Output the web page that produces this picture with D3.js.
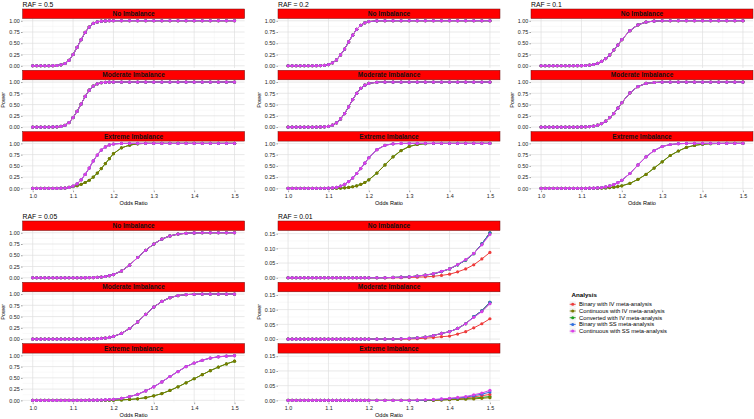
<!DOCTYPE html>
<html><head><meta charset="utf-8">
<script src="https://cdn.jsdelivr.net/npm/d3@7/dist/d3.min.js"></script>
<style>body{margin:0;background:#fff} svg text{font-family:"Liberation Sans",Arial,Helvetica,sans-serif}</style>
</head><body><svg id="c" width="754" height="419"></svg>
<script>
const oddsRatio = [1.00,1.01,1.02,1.03,1.04,1.05,1.06,1.07,1.08,1.09,1.10,1.11,1.12,1.13,1.14,1.15,1.16,1.17,1.18,1.19,1.20,1.22,1.24,1.26,1.28,1.30,1.32,1.34,1.36,1.38,1.40,1.42,1.44,1.46,1.48,1.50];
const seriesNames = ["Binary with IV meta-analysis","Continuous with IV meta-analysis","Converted with IV meta-analysis","Binary with SS meta-analysis","Continuous with SS meta-analysis"];
const seriesColors = ["#EE3B3B","#7A7A00","#1E9E1E","#2F6FE0","#DA3FE8"];
const drawOrder = [2,0,1,3,4];
const facetNames = ["No Imbalance","Moderate Imbalance","Extreme Imbalance"];
const xTicks = [1.0,1.1,1.2,1.3,1.4,1.5];
const yTicksMain = [0,0.25,0.5,0.75,1];
const yTicksRare = [0,0.05,0.10,0.15];

// RAF = 0.5
const raf05_none = [0,0,0,0,0,0.002,0.006,0.02,0.05,0.12,0.25,0.41,0.58,0.74,0.86,0.94,0.975,0.99,0.997,1,1,1,1,1,1,1,1,1,1,1,1,1,1,1,1,1];
const raf05_mod = [0,0,0,0,0,0.002,0.005,0.015,0.04,0.10,0.21,0.35,0.51,0.68,0.82,0.91,0.96,0.985,0.995,1,1,1,1,1,1,1,1,1,1,1,1,1,1,1,1,1];
const raf05_extSS = [0,0,0,0,0,0,0.001,0.003,0.008,0.02,0.05,0.10,0.19,0.31,0.45,0.61,0.74,0.85,0.92,0.964,0.986,0.998,1,1,1,1,1,1,1,1,1,1,1,1,1,1];
const raf05_extIV = [0,0,0,0,0,0,0,0.002,0.008,0.02,0.04,0.06,0.09,0.13,0.18,0.25,0.34,0.44,0.55,0.66,0.77,0.90,0.96,0.99,1,1,1,1,1,1,1,1,1,1,1,1];
// RAF = 0.2
const raf02_none = [0,0,0,0,0,0,0,0.001,0.003,0.01,0.027,0.064,0.13,0.24,0.37,0.53,0.68,0.81,0.90,0.954,0.981,0.998,1,1,1,1,1,1,1,1,1,1,1,1,1,1];
const raf02_mod = [0,0,0,0,0,0,0,0,0.002,0.006,0.017,0.043,0.093,0.18,0.30,0.45,0.61,0.75,0.86,0.93,0.97,0.996,1,1,1,1,1,1,1,1,1,1,1,1,1,1];
const raf02_extSS = [0,0,0,0,0,0,0,0,0,0.002,0.004,0.01,0.021,0.05,0.09,0.15,0.23,0.33,0.44,0.56,0.68,0.86,0.957,0.99,0.998,1,1,1,1,1,1,1,1,1,1,1];
const raf02_extIV = [0,0,0,0,0,0,0,0,0,0,0.001,0.002,0.003,0.006,0.011,0.02,0.035,0.057,0.089,0.13,0.19,0.34,0.52,0.70,0.84,0.93,0.975,0.992,0.998,1,1,1,1,1,1,1];
// RAF = 0.1
const raf01_none = [0,0,0,0,0,0,0,0,0,0.001,0.002,0.006,0.014,0.028,0.054,0.097,0.16,0.24,0.35,0.46,0.58,0.78,0.91,0.97,0.993,1,1,1,1,1,1,1,1,1,1,1];
const raf01_mod = [0,0,0,0,0,0,0,0,0,0,0.002,0.004,0.01,0.021,0.042,0.078,0.13,0.21,0.30,0.42,0.54,0.76,0.90,0.97,0.99,1,1,1,1,1,1,1,1,1,1,1];
const raf01_extSS = [0,0,0,0,0,0,0,0,0,0,0,0,0.003,0.005,0.01,0.018,0.031,0.053,0.084,0.127,0.18,0.33,0.52,0.70,0.84,0.93,0.974,0.992,0.998,1,1,1,1,1,1,1];
const raf01_extIV = [0,0,0,0,0,0,0,0,0,0,0,0,0.001,0.002,0.004,0.006,0.01,0.017,0.026,0.039,0.057,0.11,0.20,0.31,0.45,0.59,0.73,0.83,0.91,0.955,0.98,0.992,0.997,1,1,1];
// RAF = 0.05
const raf005_none = [0,0,0,0,0,0,0,0,0,0,0,0,0,0.001,0.003,0.005,0.009,0.017,0.028,0.046,0.071,0.15,0.28,0.45,0.61,0.75,0.86,0.93,0.97,0.988,0.996,1,1,1,1,1];
const raf005_mod = [0,0,0,0,0,0,0,0,0,0,0,0,0,0,0.002,0.004,0.008,0.014,0.023,0.037,0.058,0.125,0.235,0.38,0.55,0.71,0.836,0.92,0.966,0.988,0.996,1,1,1,1,1];
const raf005_extSS = [0,0,0,0,0,0,0,0,0,0,0.001,0.001,0.002,0.002,0.003,0.004,0.005,0.008,0.011,0.017,0.023,0.045,0.081,0.135,0.21,0.30,0.41,0.53,0.64,0.75,0.83,0.89,0.94,0.967,0.983,0.992];
const raf005_extIV = [0,0,0,0,0,0,0,0,0,0,0,0,0,0,0,0,0,0,0.001,0.002,0.004,0.01,0.02,0.035,0.06,0.10,0.15,0.22,0.30,0.39,0.48,0.57,0.66,0.74,0.81,0.87];
// RAF = 0.01
const raf001_none_hi = [0,0,0,0,0,0,0,0,0,0,0,0,0,0,0,0,0,0,0,0,0,0,0,0.001,0.002,0.003,0.006,0.009,0.013,0.021,0.03,0.044,0.06,0.082,0.115,0.153];
const raf001_none_ss = [0,0,0,0,0,0,0,0,0,0,0,0,0,0,0,0,0,0,0,0,0,0,0,0.001,0.002,0.003,0.006,0.009,0.014,0.022,0.03,0.045,0.062,0.083,0.112,0.147];
const raf001_none_bin = [0,0,0,0,0,0,0,0,0,0,0,0,0,0,0,0,0,0,0,0,0,0,0,0,0,0.001,0.002,0.003,0.005,0.008,0.012,0.02,0.03,0.044,0.064,0.086];
const raf001_mod_hi = [0,0,0,0,0,0,0,0,0,0,0,0,0,0,0,0,0,0,0,0,0,0,0,0,0.001,0.002,0.004,0.007,0.012,0.019,0.025,0.036,0.052,0.076,0.096,0.125];
const raf001_mod_ss = [0,0,0,0,0,0,0,0,0,0,0,0,0,0,0,0,0,0,0,0,0,0,0,0,0.001,0.002,0.004,0.007,0.012,0.019,0.025,0.036,0.052,0.074,0.093,0.12];
const raf001_mod_bin = [0,0,0,0,0,0,0,0,0,0,0,0,0,0,0,0,0,0,0,0,0,0,0,0,0,0,0.001,0.003,0.005,0.008,0.01,0.017,0.025,0.038,0.052,0.069];
const raf001_ext_ss = [0,0,0,0,0,0,0,0,0,0,0,0,0,0,0,0,0,0,0,0,0,0,0,0,0,0,0.001,0.002,0.003,0.005,0.007,0.01,0.013,0.019,0.025,0.034];
const raf001_ext_bss = [0,0,0,0,0,0,0,0,0,0,0,0,0,0,0,0,0,0,0,0,0,0,0,0,0,0,0,0.001,0.002,0.004,0.006,0.008,0.011,0.016,0.021,0.028];
const raf001_ext_bin = [0,0,0,0,0,0,0,0,0,0,0,0,0,0,0,0,0,0,0,0,0,0,0,0,0,0,0,0,0.001,0.002,0.004,0.006,0.009,0.012,0.016,0.02];
const raf001_ext_civ = [0,0,0,0,0,0,0,0,0,0,0,0,0,0,0,0,0,0,0,0,0,0,0,0,0,0,0,0,0,0.001,0.002,0.003,0.004,0.005,0.007,0.009];
const raf001_ext_conv = [0,0,0,0,0,0,0,0,0,0,0,0,0,0,0,0,0,0,0,0,0,0,0,0,0,0,0,0,0.001,0.002,0.003,0.004,0.006,0.008,0.01,0.013];

const panels = [
  {label:"RAF = 0.5", col:0, row:0, yTicks:yTicksMain, facets:[
    [raf05_none,raf05_none,raf05_none,raf05_none,raf05_none],
    [raf05_mod,raf05_mod,raf05_mod,raf05_mod,raf05_mod],
    [raf05_extSS,raf05_extIV,raf05_extIV,raf05_extSS,raf05_extSS]]},
  {label:"RAF = 0.2", col:1, row:0, yTicks:yTicksMain, facets:[
    [raf02_none,raf02_none,raf02_none,raf02_none,raf02_none],
    [raf02_mod,raf02_mod,raf02_mod,raf02_mod,raf02_mod],
    [raf02_extSS,raf02_extIV,raf02_extIV,raf02_extSS,raf02_extSS]]},
  {label:"RAF = 0.1", col:2, row:0, yTicks:yTicksMain, facets:[
    [raf01_none,raf01_none,raf01_none,raf01_none,raf01_none],
    [raf01_mod,raf01_mod,raf01_mod,raf01_mod,raf01_mod],
    [raf01_extSS,raf01_extIV,raf01_extIV,raf01_extSS,raf01_extSS]]},
  {label:"RAF = 0.05", col:0, row:1, yTicks:yTicksMain, facets:[
    [raf005_none,raf005_none,raf005_none,raf005_none,raf005_none],
    [raf005_mod,raf005_mod,raf005_mod,raf005_mod,raf005_mod],
    [raf005_extSS,raf005_extIV,raf005_extIV,raf005_extSS,raf005_extSS]]},
  {label:"RAF = 0.01", col:1, row:1, yTicks:yTicksRare, facets:[
    [raf001_none_bin,raf001_none_hi,raf001_none_hi,raf001_none_hi,raf001_none_ss],
    [raf001_mod_bin,raf001_mod_hi,raf001_mod_hi,raf001_mod_hi,raf001_mod_ss],
    [raf001_ext_bin,raf001_ext_civ,raf001_ext_conv,raf001_ext_bss,raf001_ext_ss]]}
];

const svg = d3.select("#c");
const colLeft = [22.6, 278, 531];
const panelW = 222;
const rowTop = [9, 221];
const stripH = 9.5, panelH = 49.5, pitch = 61.3;
const FONT = '"Liberation Sans",Arial,Helvetica,sans-serif';

panels.forEach(p => {
  const L = colLeft[p.col], T = rowTop[p.row];
  const g = svg.append("g");
  const x = d3.scaleLinear().domain([0.975, 1.525]).range([L, L + panelW]);
  const yMax = d3.max(p.facets.flat(2));
  g.append("text").attr("x", L).attr("y", T - 2.3).attr("font-size", 6.8).attr("fill", "#000").text(p.label);
  p.facets.forEach((fac, fi) => {
    const sTop = T + fi * pitch;
    const pTop = sTop + stripH, pBot = pTop + panelH;
    const y = d3.scaleLinear().domain([-0.05 * yMax, 1.05 * yMax]).range([pBot, pTop]);
    const minorX = xTicks.slice(0, -1).map(v => v + 0.05);
    const minorY = p.yTicks.slice(0, -1).map((v, i) => (v + p.yTicks[i + 1]) / 2);
    g.selectAll(null).data(minorX).enter().append("line")
      .attr("x1", d => x(d)).attr("x2", d => x(d)).attr("y1", pTop).attr("y2", pBot)
      .attr("stroke", "#f1f1f1").attr("stroke-width", 0.4);
    g.selectAll(null).data(minorY).enter().append("line")
      .attr("y1", d => y(d)).attr("y2", d => y(d)).attr("x1", L).attr("x2", L + panelW)
      .attr("stroke", "#f1f1f1").attr("stroke-width", 0.4);
    g.selectAll(null).data(xTicks).enter().append("line")
      .attr("x1", d => x(d)).attr("x2", d => x(d)).attr("y1", pTop).attr("y2", pBot)
      .attr("stroke", "#e0e0e0").attr("stroke-width", 0.7);
    g.selectAll(null).data(p.yTicks).enter().append("line")
      .attr("y1", d => y(d)).attr("y2", d => y(d)).attr("x1", L).attr("x2", L + panelW)
      .attr("stroke", "#e0e0e0").attr("stroke-width", 0.7);
    g.append("rect").attr("x", L).attr("y", sTop).attr("width", panelW).attr("height", stripH)
      .attr("fill", "#FF0000").attr("stroke", "#6b1010").attr("stroke-width", 0.5);
    g.append("text").attr("x", L + panelW / 2).attr("y", sTop + stripH / 2 + 2.3)
      .attr("text-anchor", "middle").attr("font-size", 6.5).attr("font-weight", "bold").attr("fill", "#111")
      .text(facetNames[fi]);
    const ya = g.append("g").attr("transform", `translate(${L},0)`)
      .call(d3.axisLeft(y).tickValues(p.yTicks).tickFormat(d3.format(".2f")).tickSize(1.6).tickPadding(1.2));
    ya.select(".domain").remove();
    ya.selectAll("line").attr("stroke", "#444").attr("stroke-width", 0.5);
    ya.selectAll("text").attr("font-size", 5.4).attr("fill", "#222").attr("font-family", FONT);
    if (fi === 2) {
      const xa = g.append("g").attr("transform", `translate(0,${pBot})`)
        .call(d3.axisBottom(x).tickValues(xTicks).tickFormat(d3.format(".1f")).tickSize(1.6).tickPadding(1.8));
      xa.select(".domain").remove();
      xa.selectAll("line").attr("stroke", "#444").attr("stroke-width", 0.5);
      xa.selectAll("text").attr("font-size", 5.4).attr("fill", "#222").attr("font-family", FONT);
      g.append("text").attr("x", L + panelW / 2).attr("y", pBot + 14.5).attr("text-anchor", "middle")
        .attr("font-size", 5.6).attr("fill", "#000").text("Odds Ratio");
    }
    const line = d3.line().x((d, i) => x(oddsRatio[i])).y(d => y(d));
    drawOrder.forEach(si => {
      const vals = fac[si];
      g.append("path").attr("d", line(vals)).attr("fill", "none")
        .attr("stroke", seriesColors[si]).attr("stroke-width", 1);
      g.selectAll(null).data(vals).enter().append("circle")
        .attr("cx", (d, i) => x(oddsRatio[i])).attr("cy", d => y(d)).attr("r", 1.6)
        .attr("fill", seriesColors[si]);
    });
  });
  const midY = T + (2 * pitch + stripH + panelH) / 2;
  g.append("text").attr("transform", `translate(${L - 17.5},${midY}) rotate(-90)`)
    .attr("text-anchor", "middle").attr("font-size", 5.6).attr("fill", "#000").text("Power");
});

const lg = svg.append("g");
lg.append("text").attr("x", 571.5).attr("y", 297).attr("font-size", 6.2).attr("font-weight", "bold").attr("fill", "#000").text("Analysis");
seriesNames.forEach((name, i) => {
  const cy = 304.3 + i * 6.7;
  lg.append("rect").attr("x", 569.7).attr("y", cy - 3).attr("width", 6).attr("height", 6).attr("fill", "#f2f2f2");
  lg.append("line").attr("x1", 569.7).attr("x2", 575.7).attr("y1", cy).attr("y2", cy).attr("stroke", seriesColors[i]).attr("stroke-width", 0.9);
  lg.append("circle").attr("cx", 572.7).attr("cy", cy).attr("r", 1.5).attr("fill", seriesColors[i]);
  lg.append("text").attr("x", 579).attr("y", cy + 2).attr("font-size", 5.8).attr("fill", "#000").text(name);
});
</script></body></html>
